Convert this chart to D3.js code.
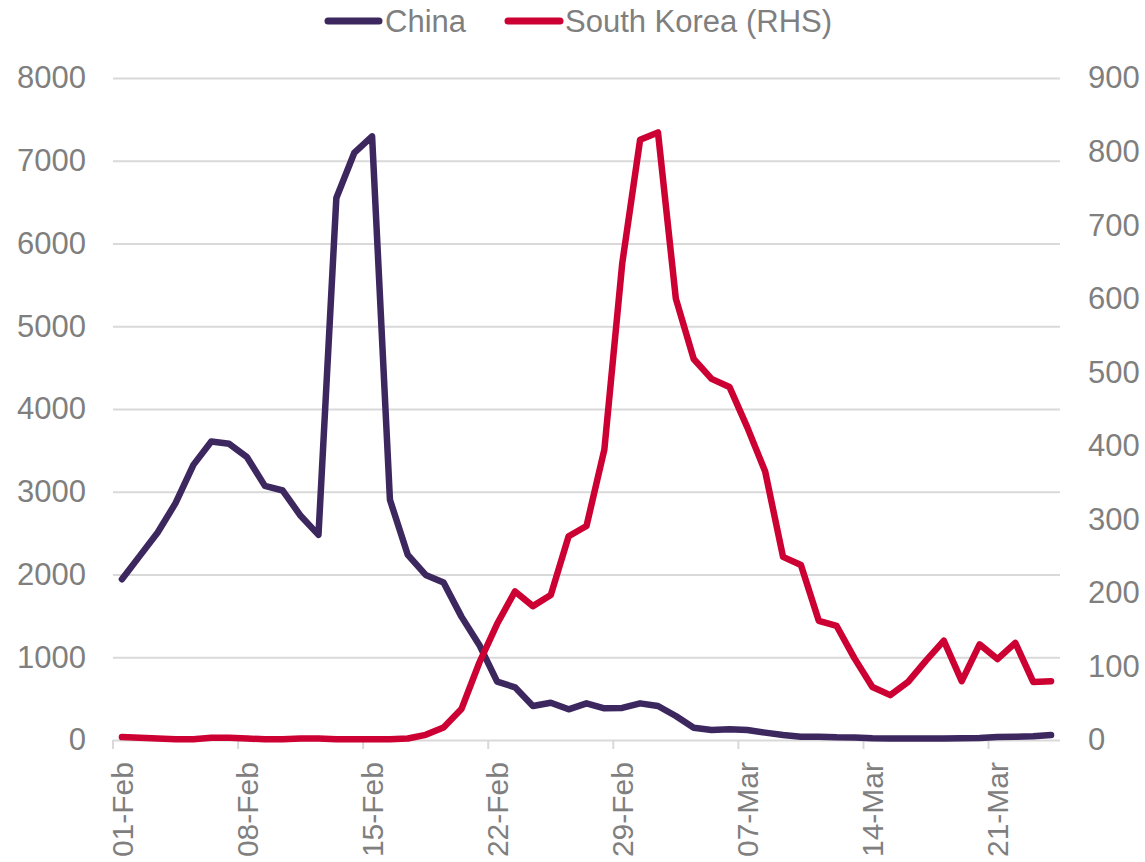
<!DOCTYPE html>
<html>
<head>
<meta charset="utf-8">
<script src="https://cdn.jsdelivr.net/npm/d3@7/dist/d3.min.js"></script>
<style>
  html, body { margin: 0; padding: 0; background: #fff; }
  svg { display: block; font-family: "Liberation Sans", Arial, sans-serif; }
</style>
</head>
<body>
<svg id="chart" width="1145" height="862"></svg>
<script>
const categories = [
  "01-Feb","02-Feb","03-Feb","04-Feb","05-Feb","06-Feb","07-Feb","08-Feb","09-Feb","10-Feb",
  "11-Feb","12-Feb","13-Feb","14-Feb","15-Feb","16-Feb","17-Feb","18-Feb","19-Feb","20-Feb",
  "21-Feb","22-Feb","23-Feb","24-Feb","25-Feb","26-Feb","27-Feb","28-Feb","29-Feb","01-Mar",
  "02-Mar","03-Mar","04-Mar","05-Mar","06-Mar","07-Mar","08-Mar","09-Mar","10-Mar","11-Mar",
  "12-Mar","13-Mar","14-Mar","15-Mar","16-Mar","17-Mar","18-Mar","19-Mar","20-Mar","21-Mar",
  "22-Mar","23-Mar","24-Mar"
];
const china = [
  1943, 2225, 2507, 2862, 3325, 3607, 3579, 3418, 3071, 3015,
  2709, 2479, 6550, 7094, 7295, 2902, 2237, 1995, 1902, 1491,
  1149, 705, 637, 411, 451, 371, 443, 383, 387, 443,
  411, 290, 149, 121, 129, 121, 89, 60, 40, 40,
  32, 30, 20, 18, 18, 18, 18, 20, 25, 35,
  40, 45, 60
];
const southKorea = [
  4, 3, 2, 1, 1, 3, 3, 2, 1, 1,
  2, 2, 1, 1, 1, 1, 2, 7, 17, 42,
  105, 158, 202, 182, 197, 277, 291, 395, 648, 816,
  826, 600, 518, 491, 480, 425, 365, 249, 238, 162,
  155, 111, 72, 61, 79, 108, 135, 80, 130, 110,
  132, 79, 80
];
const leftTicks = [0, 1000, 2000, 3000, 4000, 5000, 6000, 7000, 8000];
const rightTicks = [0, 100, 200, 300, 400, 500, 600, 700, 800, 900];
const xTickLabels = ["01-Feb","08-Feb","15-Feb","22-Feb","29-Feb","07-Mar","14-Mar","21-Mar"];
const seriesNames = ["China", "South Korea (RHS)"];

const colors = { china: "#3d275f", korea: "#cc0033", text: "#7f7f7f", grid: "#d9d9d9" };
const plot = { left: 113, right: 1060, top: 78, bottom: 740 };
const fontSize = 30;

const svg = d3.select("#chart");

const x = d3.scaleBand().domain(categories).range([plot.left, plot.right]).paddingInner(0).paddingOuter(0);
const cx = d => x(d) + x.bandwidth() / 2;
const yL = d3.scaleLinear().domain([0, 8000]).range([plot.bottom, plot.top]);
const yR = d3.scaleLinear().domain([0, 900]).range([plot.bottom, plot.top]);

// Gridlines + left labels
const gLeft = svg.append("g").attr("transform", `translate(${plot.left},0)`)
  .call(d3.axisLeft(yL).tickValues(leftTicks).tickSize(-(plot.right - plot.left)).tickPadding(27).tickFormat(d3.format("d")));
gLeft.select(".domain").remove();
gLeft.selectAll(".tick line").attr("stroke", colors.grid).attr("stroke-width", 2);
gLeft.selectAll(".tick text").attr("fill", colors.text).attr("font-size", fontSize + 1)
  .attr("font-family", "'Liberation Sans', Arial, sans-serif").attr("dy", "0.32em");

// Right labels
const gRight = svg.append("g").attr("transform", `translate(${plot.right},0)`)
  .call(d3.axisRight(yR).tickValues(rightTicks).tickSize(0).tickPadding(28).tickFormat(d3.format("d")));
gRight.select(".domain").remove();
gRight.selectAll(".tick text").attr("fill", colors.text).attr("font-size", fontSize + 1)
  .attr("font-family", "'Liberation Sans', Arial, sans-serif").attr("dy", "0.32em");

// X tick marks at category boundaries every 7th category
svg.append("g").selectAll("line")
  .data(xTickLabels)
  .join("line")
  .attr("x1", d => x(d)).attr("x2", d => x(d))
  .attr("y1", plot.bottom).attr("y2", plot.bottom + 9)
  .attr("stroke", colors.grid).attr("stroke-width", 2);

// X labels
const gX = svg.append("g").attr("transform", `translate(0,${plot.bottom})`)
  .call(d3.axisBottom(x).tickValues(xTickLabels).tickSize(0).tickPadding(0));
gX.select(".domain").remove();
gX.selectAll(".tick text")
  .attr("fill", colors.text).attr("font-size", fontSize)
  .attr("font-family", "'Liberation Sans', Arial, sans-serif")
  .attr("text-anchor", "end")
  .attr("transform", "translate(0,22) rotate(-90)")
  .attr("x", 0).attr("y", 0).attr("dy", "0.36em");

// Lines
const lineL = d3.line().x((d, i) => cx(categories[i])).y(d => yL(d));
const lineR = d3.line().x((d, i) => cx(categories[i])).y(d => yR(d));

svg.append("path").datum(china).attr("d", lineL)
  .attr("fill", "none").attr("stroke", colors.china).attr("stroke-width", 6.5)
  .attr("stroke-linejoin", "round").attr("stroke-linecap", "round");
svg.append("path").datum(southKorea).attr("d", lineR)
  .attr("fill", "none").attr("stroke", colors.korea).attr("stroke-width", 6.5)
  .attr("stroke-linejoin", "round").attr("stroke-linecap", "round");

// Legend
const legend = [
  { name: seriesNames[0], color: colors.china, x1: 328, x2: 379, tx: 385 },
  { name: seriesNames[1], color: colors.korea, x1: 508, x2: 560, tx: 565 }
];
const lg = svg.append("g");
lg.selectAll("line").data(legend).join("line")
  .attr("x1", d => d.x1).attr("x2", d => d.x2).attr("y1", 21).attr("y2", 21)
  .attr("stroke", d => d.color).attr("stroke-width", 7).attr("stroke-linecap", "round");
lg.selectAll("text").data(legend).join("text")
  .attr("x", d => d.tx).attr("y", 32)
  .attr("fill", colors.text).attr("font-size", 31)
  .text(d => d.name);
</script>
</body>
</html>
